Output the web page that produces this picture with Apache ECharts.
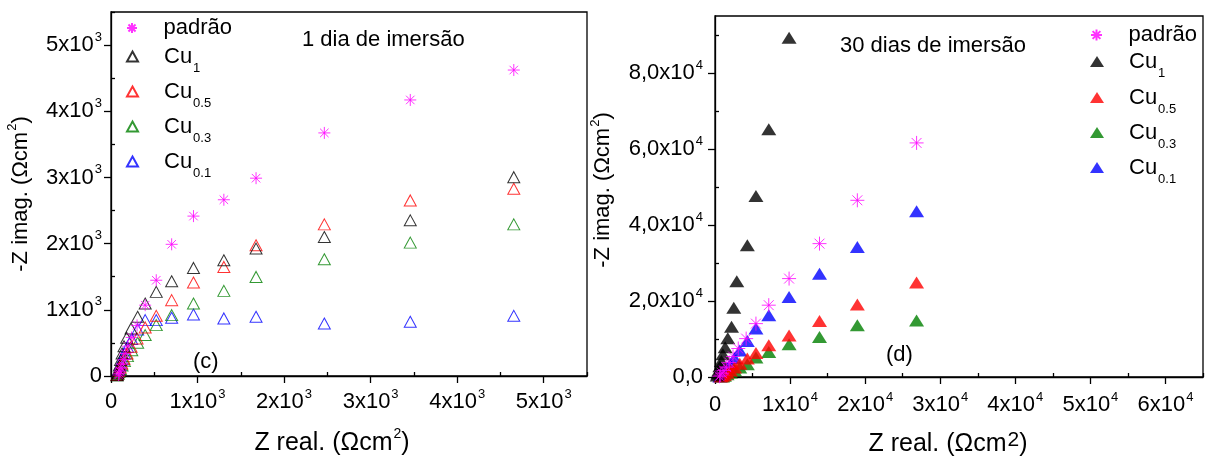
<!DOCTYPE html>
<html>
<head>
<meta charset="utf-8">
<script src="https://cdn.jsdelivr.net/npm/echarts@6/dist/echarts.min.js"></script>
<style>
html, body { margin: 0; padding: 0; background: #fff; }
#c1 { position: absolute; left: 0; top: 0; width: 600px; height: 461px; }
#c2 { position: absolute; left: 590px; top: 0; width: 621px; height: 461px; }
</style>
</head>
<body>
<div id="c1"></div>
<div id="c2"></div>
<script>
// 1 dia de imersao  [Z real, -Z imag]
var padrao1 = [[4654,4623],[3458,4171],[2465,3673],[1676,2989],[1304,2663],[953,2416],[701,1990],[523,1447],[395,1070],[301,764],[239,583],[195,450],[165,340],[145,250],[128,180],[115,120],[105,75],[95,40],[88,15]];
var cu1_1 = [[4654,3004],[3458,2352],[2465,2100],[1676,1925],[1304,1749],[953,1633],[701,1432],[523,1271],[395,1096],[308,894],[232,719],[181,577],[150,450],[128,340],[110,240],[96,160],[85,90],[76,40],[70,10]];
var cu05_1 = [[4654,2829],[3458,2653],[2465,2291],[1676,1975],[1304,1648],[953,1412],[701,1146],[523,909],[395,734],[301,568],[232,442],[185,340],[150,260],[125,190],[105,130],[90,80],[78,40],[68,15]];
var cu03_1 = [[4654,2291],[3458,2015],[2465,1764],[1676,1497],[1304,1286],[953,1096],[701,920],[523,769],[395,618],[308,502],[240,390],[190,300],[155,225],[128,160],[108,105],[92,60],[80,30],[70,10]];
var cu01_1 = [[4654,909],[3458,819],[2465,794],[1676,894],[1304,870],[953,930],[701,879],[523,844],[395,844],[308,704],[240,560],[190,440],[155,340],[128,250],[108,170],[92,105],[80,55],[70,20]];

// 30 dias de imersao
var padrao30 = [[26850,61600],[18960,46500],[13920,35100],[9867,25900],[7160,18900],[5453,14050],[4150,10100],[3100,7500],[2400,5400],[1900,3800],[1500,2600],[1200,1700],[950,1000],[750,500],[600,200]];
var cu1_30 = [[9867,89300],[7160,65200],[5453,47600],[4307,34700],[2900,25200],[2500,18200],[2200,13200],[1700,10200],[1350,7800],[1050,6000],[850,4200],[650,2800],[500,1700],[380,900],[300,400]];
var cu05_30 = [[26850,24850],[18960,19100],[13920,14750],[9867,10950],[7160,8350],[5453,6300],[4307,4850],[3300,3500],[2600,2500],[2050,1700],[1600,1100],[1250,600],[1000,300],[800,100]];
var cu03_30 = [[26850,14900],[18960,13600],[13920,10500],[9867,8600],[7160,6600],[5453,5100],[4307,3350],[3300,2500],[2600,1800],[2050,1200],[1600,700],[1250,350],[1000,150]];
var cu01_30 = [[26850,43600],[18960,34200],[13920,27200],[9867,21050],[7160,16250],[5453,12750],[4307,9500],[3300,7000],[2600,5000],[2050,3500],[1600,2400],[1250,1500],[1000,900],[800,400],[650,150]];

// ticks
var xTicks1 = [0,1000,2000,3000,4000,5000];
var xMinor1 = [500,1500,2500,3500,4500,5500];
var yTicks1 = [0,1000,2000,3000,4000,5000];
var yMinor1 = [500,1500,2500,3500,4500,5500];
var xTicks30 = [0,10000,20000,30000,40000,50000,60000];
var xMinor30 = [5000,15000,25000,35000,45000,55000,65000];
var yTicks30 = [0,20000,40000,60000,80000];
var yMinor30 = [10000,30000,50000,70000,90000];

var names = ['padrão','Cu1','Cu0.5','Cu0.3','Cu0.1'];
var colors = ['#ff00ff','#000000','#ff0000','#008000','#0000ff'];
// legend row centres (px from top)
var legendRows1 = [29, 57, 92, 127, 162];
var legendRows30 = [36, 62, 98, 133, 168];

var FONT = '"Liberation Sans", Arial, sans-serif';
var STAR = 'path://M10,0L10,20M0,10L20,10M2.93,2.93L17.07,17.07M2.93,17.07L17.07,2.93';

var labelRich = {
	b: { fontSize: 22, lineHeight: 24, fontFamily: FONT, color: '#000' },
	s: { fontSize: 13, lineHeight: 24, fontFamily: FONT, color: '#000', padding: [0, 0, 16, 1] }
};
var nameRich = {
	b: { fontSize: 25, lineHeight: 27, fontFamily: FONT, color: '#000' },
	s: { fontSize: 14, lineHeight: 27, fontFamily: FONT, color: '#000', padding: [0, 0, 18, 1] },
	big: { fontSize: 21, lineHeight: 27, fontFamily: FONT, color: '#000', padding: [0, 0, 9, 1] }
};
var ynameRich = {
	b: { fontSize: 22, lineHeight: 24, fontFamily: FONT, color: '#000' },
	s: { fontSize: 13, lineHeight: 24, fontFamily: FONT, color: '#000', padding: [0, 0, 16, 1] }
};

function legendFmt(name) {
	if(name == 'padrão') return '{c|padrão}';
	return '{c|Cu}{s|' + name.slice(2) + '}';
}

// one legend per row, so every row sits where it should
// (the subscript makes the Cu rows taller, hence the -7)
function legendCfg(left, rows, iw, ih, pad) {
	return names.map(function(n, i) {
		return {
			orient: 'vertical', left: left, top: rows[i] - 12 - (i > 0 ? 7 : 0), padding: 0,
			itemWidth: iw, itemHeight: ih, selectedMode: false,
			data: [n], formatter: legendFmt,
			textStyle: {
				fontSize: 22, fontFamily: FONT, color: '#000', padding: [0, 0, 0, pad],
				rich: {
					c: { fontSize: 22, lineHeight: 24, fontFamily: FONT, color: '#000' },
					s: { fontSize: 13, lineHeight: 24, fontFamily: FONT, color: '#000', padding: [24, 0, 0, 1] }
				}
			}
		};
	});
}

function valAxis(max, ticks, minor, fmt, margin, name, nameGap, namePad, rich) {
	var lineStyle = { color: '#000', width: 1.3 };
	return [{
		type: 'value', min: 0, max: max,
		axisLine: { show: true, lineStyle: lineStyle },
		axisTick: { show: true, customValues: ticks, length: 7, lineStyle: lineStyle },
		axisLabel: { customValues: ticks, formatter: fmt, margin: margin, rich: labelRich },
		splitLine: { show: false },
		name: name, nameLocation: 'middle', nameGap: nameGap,
		nameTextStyle: { rich: rich, padding: namePad }
	}, {
		type: 'value', min: 0, max: max,
		axisLine: { show: false },
		axisTick: { show: true, customValues: minor, length: 4, lineStyle: lineStyle },
		axisLabel: { show: false },
		splitLine: { show: false }
	}];
}

function makeSeries(list, filled, size, starSize) {
	return list.map(function(d, i) {
		var c = colors[i];
		var isStar = i == 0;
		return {
			name: names[i], type: 'scatter', data: d,
			symbol: isStar ? STAR : 'triangle',
			symbolSize: isStar ? starSize : size,
			itemStyle: {
				color: (filled && !isStar) ? c : 'rgba(0,0,0,0)',
				borderColor: c, borderWidth: (filled && !isStar) ? 0 : 1
			},
			emphasis: { disabled: true },
			z: 10 - i
		};
	}).reverse();
}

var chart1 = echarts.init(document.getElementById('c1'));
var chart2 = echarts.init(document.getElementById('c2'));

var xa1 = valAxis(5500, xTicks1, xMinor1, function(v) {
	return v == 0 ? '{b|0}' : '{b|' + (v / 1000) + 'x10}{s|3}';
}, 14, '{b|Z real. (Ωcm}{s|2}{b|)}', 54, [0, 34, 0, 0], nameRich);
var ya1 = valAxis(5500, yTicks1, yMinor1, function(v) {
	return v == 0 ? '{b|0}' : '{b|' + (v / 1000) + 'x10}{s|3}';
}, 9, '{b|-Z imag. (Ωcm}{s|2}{b|)}', 73, [0, 0, 0, 0], ynameRich);

chart1.setOption({
	animation: false,
	grid: { left: 111, top: 12, width: 476, height: 364, show: true, borderColor: '#000', borderWidth: 1.3, outerBoundsMode: 'none' },
	xAxis: xa1,
	yAxis: ya1,
	legend: legendCfg(126, legendRows1, 11, 10, 21),
	graphic: [
		{ type: 'text', left: 302, top: 29, style: { text: '1 dia de imersão', fontSize: 22, fontFamily: FONT, fill: '#000' } },
		{ type: 'text', left: 193, top: 351, style: { text: '(c)', fontSize: 22, fontFamily: FONT, fill: '#000' } }
	],
	series: makeSeries([padrao1, cu1_1, cu05_1, cu03_1, cu01_1], false, [12, 11], 12)
});

var xa2 = valAxis(65000, xTicks30, xMinor30, function(v) {
	return v == 0 ? '{b|0}' : '{b|' + (v / 10000) + 'x10}{s|4}';
}, 16, '{b|Z real. (Ωcm}{big|2}{b|)}', 54, [0, 22, 0, 0], nameRich);
var ya2 = valAxis(95000, yTicks30, yMinor30, function(v) {
	return v == 0 ? '{b|0,0}' : '{b|' + (v / 10000).toFixed(1).replace('.', ',') + 'x10}{s|4}';
}, 12, '{b|-Z imag. (Ωcm}{s|2}{b|)}', 89, [0, 0, 0, 13], ynameRich);

chart2.setOption({
	animation: false,
	grid: { left: 125, top: 16, width: 488, height: 361, show: true, borderColor: '#000', borderWidth: 1.3, outerBoundsMode: 'none' },
	xAxis: xa2,
	yAxis: ya2,
	legend: legendCfg(500, legendRows30, 14, 11, 20),
	graphic: [
		{ type: 'text', left: 250, top: 35, style: { text: '30 dias de imersão', fontSize: 22, fontFamily: FONT, fill: '#000' } },
		{ type: 'text', left: 296, top: 344, style: { text: '(d)', fontSize: 22, fontFamily: FONT, fill: '#000' } }
	],
	series: makeSeries([padrao30, cu1_30, cu05_30, cu03_30, cu01_30], true, [15, 12], 14)
});
</script>
</body>
</html>
